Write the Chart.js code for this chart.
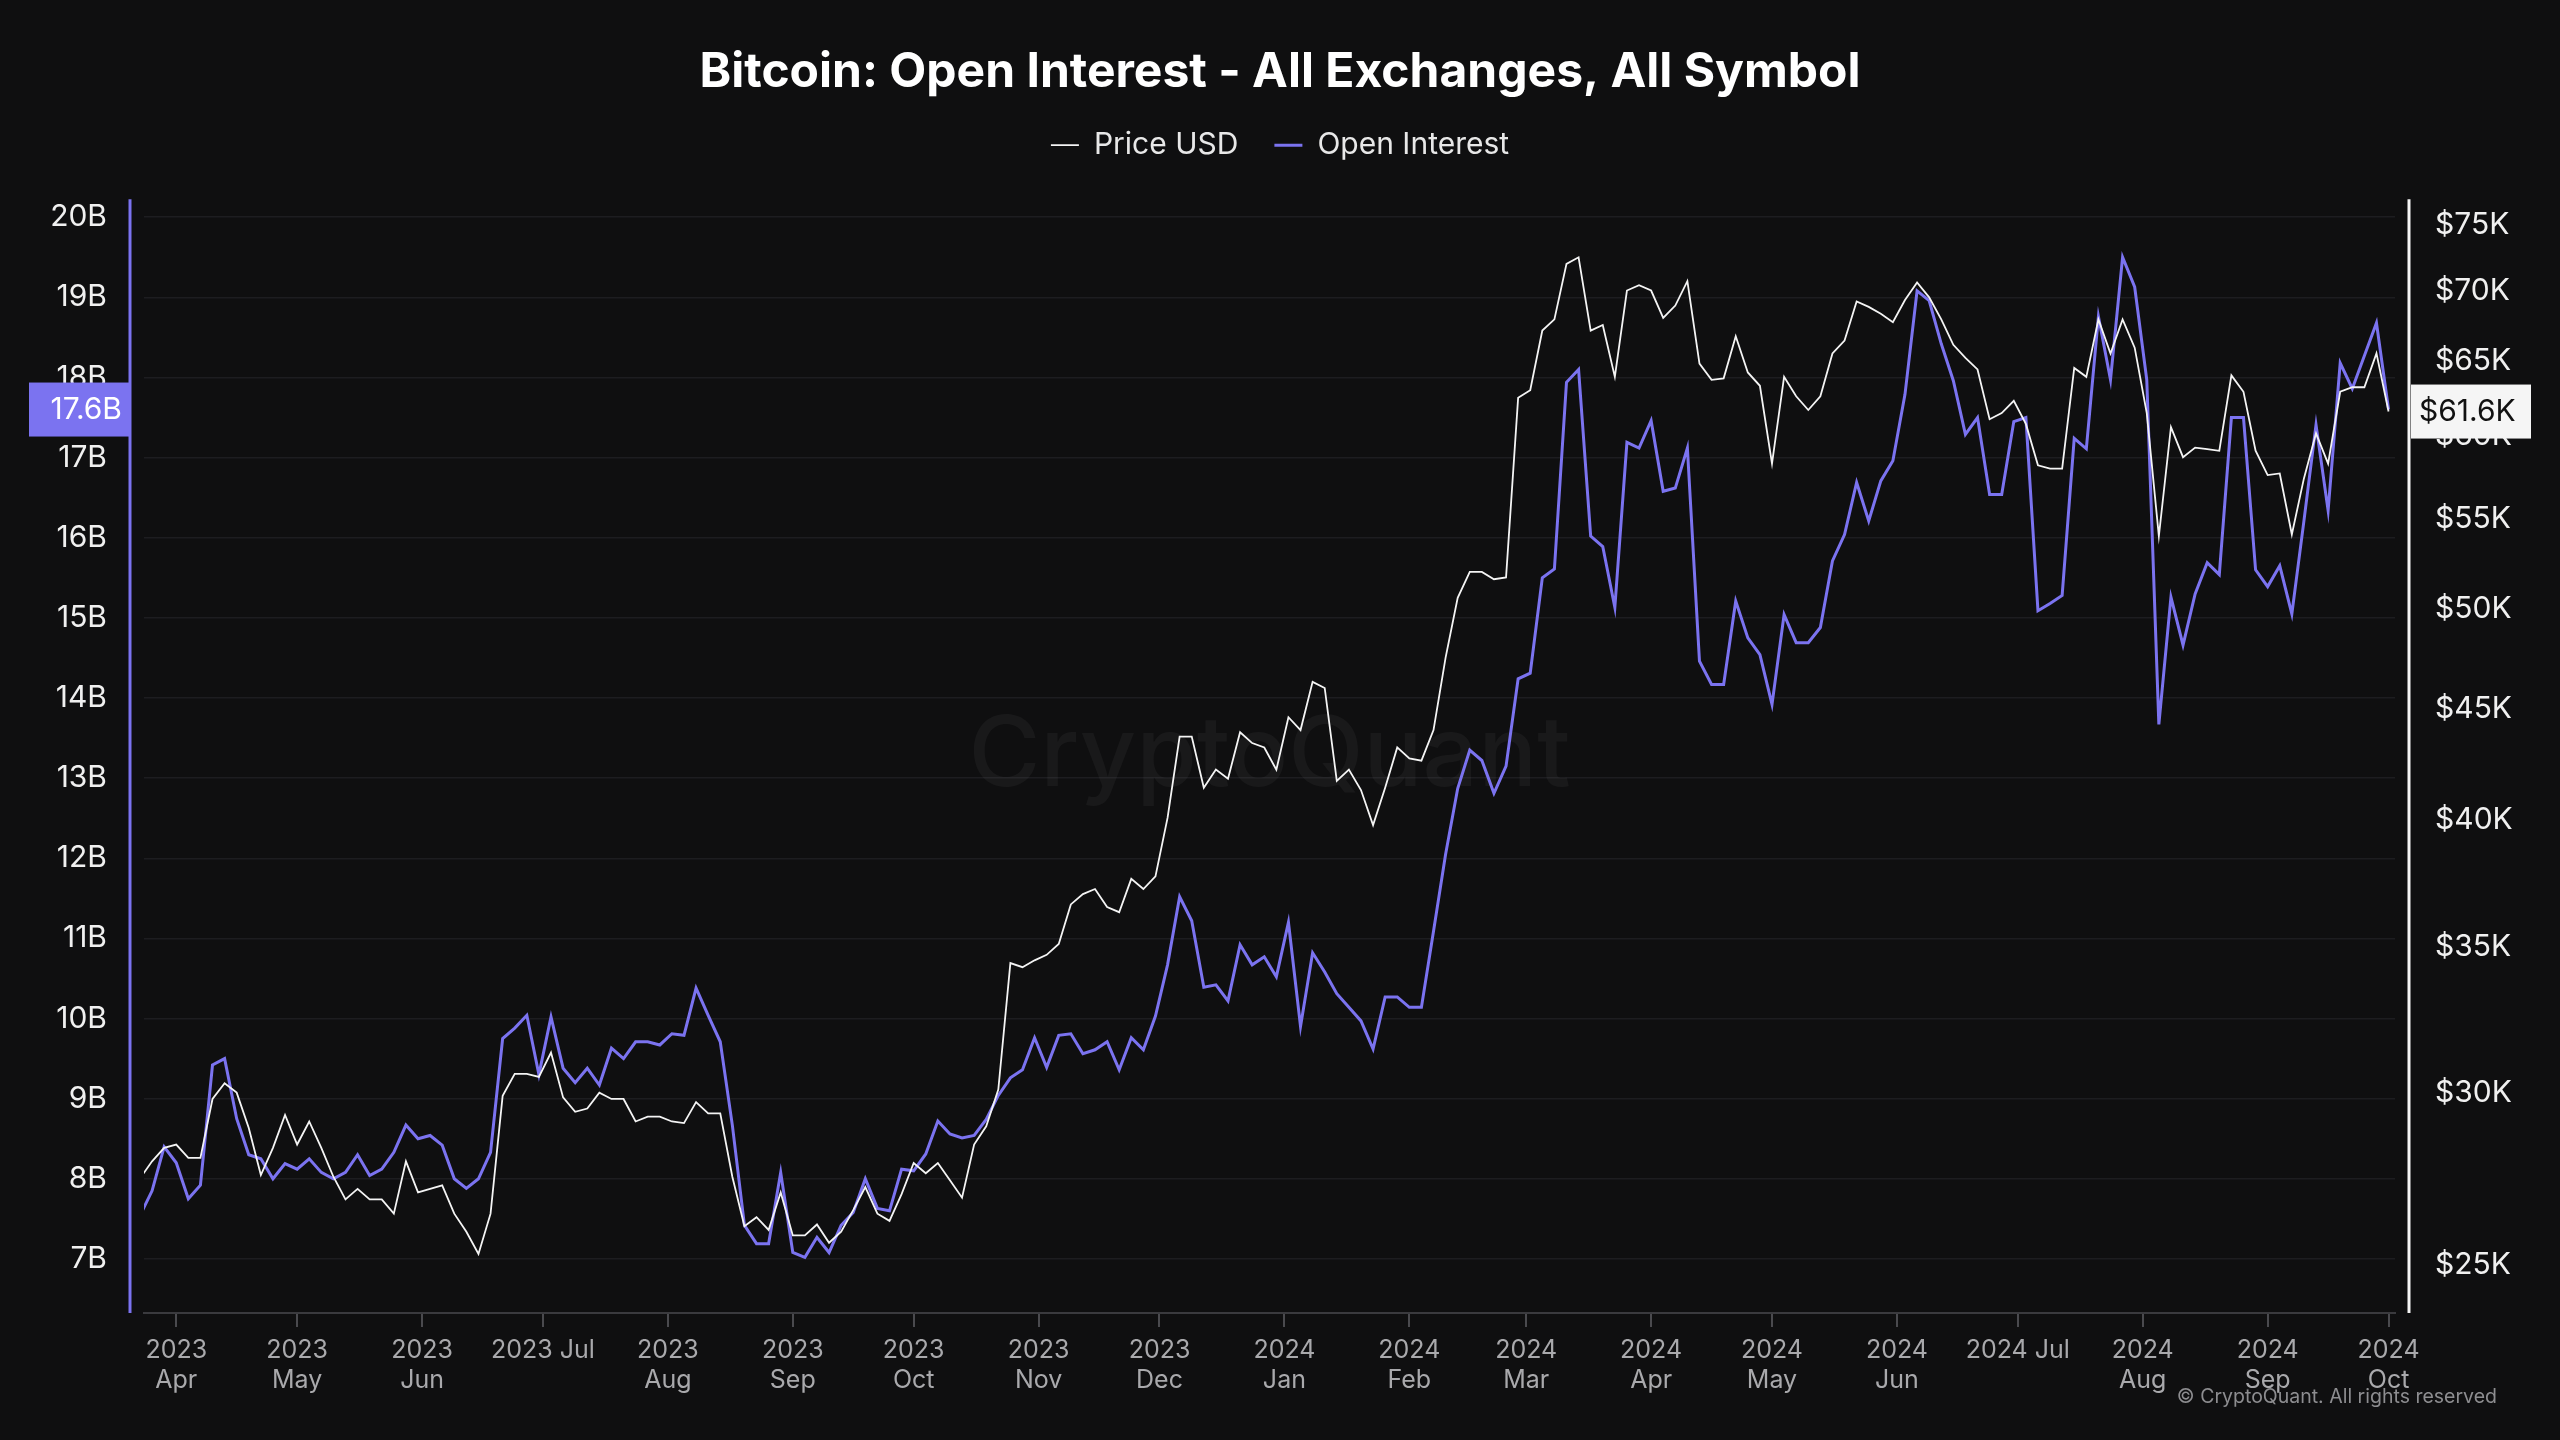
<!DOCTYPE html>
<html>
<head>
<meta charset="utf-8">
<title>Bitcoin: Open Interest - All Exchanges, All Symbol</title>
<script src="https://cdn.jsdelivr.net/npm/chart.js@4.4.1/dist/chart.umd.min.js"></script>
<style>
  html, body { margin: 0; padding: 0; background: #0f0f10; }
  #wrap { width: 2560px; height: 1440px; position: relative; }
</style>
</head>
<body>
<div id="wrap"><canvas id="oiChart"></canvas></div>
<script>
// one sample every 3 days, first one on 23 Mar 2023
const startDate = Date.UTC(2023, 2, 23);
const stepDays = 3;
const DAY = 86400000;

// BTC price, thousands of USD
const priceK = [
  27.4, 27.9, 28.3, 28.4, 28.0, 28.0, 29.8, 30.3, 30.0, 28.9,
  27.5, 28.3, 29.3, 28.4, 29.1, 28.3, 27.45, 26.8, 27.1, 26.8,
  26.8, 26.4, 27.9, 27.0, 27.1, 27.2, 26.4, 25.9, 25.3, 26.4,
  29.9, 30.6, 30.6, 30.5, 31.3, 29.85, 29.4, 29.5, 30.0, 29.8,
  29.8, 29.1, 29.25, 29.25, 29.1, 29.05, 29.7, 29.35, 29.35, 27.45,
  26.05, 26.3, 25.95, 27.0, 25.8, 25.8, 26.1, 25.6, 25.9, 26.5,
  27.15, 26.4, 26.2, 26.95, 27.85, 27.55, 27.85, 27.35, 26.85, 28.4,
  28.95, 30.1, 34.4, 34.25, 34.5, 34.7, 35.1, 36.6, 37.0, 37.2,
  36.5, 36.3, 37.6, 37.2, 37.7, 40.1, 43.7, 43.7, 41.4, 42.2,
  41.8, 43.9, 43.4, 43.2, 42.2, 44.6, 44.0, 46.3, 46.0, 41.7,
  42.2, 41.3, 39.8, 41.4, 43.2, 42.7, 42.6, 44.0, 47.5, 50.6,
  52.0, 52.0, 51.6, 51.7, 62.5, 63.0, 67.1, 67.9, 72.0, 72.5,
  67.1, 67.5, 63.9, 70.0, 70.4, 70.0, 68.0, 68.9, 70.7, 64.8,
  63.7, 63.8, 66.7, 64.2, 63.3, 58.3, 63.9, 62.6, 61.7, 62.6,
  65.5, 66.4, 69.2, 68.8, 68.3, 67.7, 69.3, 70.6, 69.5, 67.9,
  66.1, 65.2, 64.4, 61.1, 61.5, 62.3, 60.8, 58.2, 58.0, 58.0,
  64.5, 63.9, 67.9, 65.5, 67.9, 65.9, 61.5, 54.0, 60.6, 58.7,
  59.3, 59.2, 59.1, 64.0, 62.9, 59.1, 57.6, 57.7, 54.1, 57.4,
  60.2, 58.3, 62.9, 63.2, 63.2, 65.5, 61.6
];

// open interest, billions of USD
const openInterestB = [
  7.54, 7.85, 8.4, 8.2, 7.75, 7.92, 9.42, 9.5, 8.75, 8.3,
  8.25, 8.0, 8.19, 8.12, 8.25, 8.08, 8.0, 8.08, 8.3, 8.04,
  8.12, 8.33, 8.67, 8.5, 8.54, 8.42, 8.0, 7.88, 8.0, 8.33,
  9.75, 9.88, 10.04, 9.3, 10.02, 9.38, 9.2, 9.38, 9.17, 9.63,
  9.5, 9.71, 9.71, 9.67, 9.81, 9.79, 10.38, 10.04, 9.71, 8.67,
  7.42, 7.19, 7.19, 8.08, 7.08, 7.02, 7.27, 7.08, 7.42, 7.58,
  8.0, 7.63, 7.6, 8.12, 8.1, 8.31, 8.72, 8.56, 8.51, 8.54,
  8.74, 9.04, 9.26, 9.36, 9.76, 9.39, 9.79, 9.81, 9.56, 9.61,
  9.71, 9.36, 9.76, 9.61, 10.03, 10.67, 11.52, 11.22, 10.39, 10.42,
  10.22, 10.92, 10.67, 10.77, 10.52, 11.2, 9.9, 10.82, 10.58, 10.31,
  10.14, 9.97, 9.62, 10.27, 10.27, 10.14, 10.14, 11.09, 12.05, 12.87,
  13.35, 13.22, 12.81, 13.15, 14.24, 14.31, 15.5, 15.61, 17.94, 18.1,
  16.02, 15.89, 15.13, 17.19, 17.12, 17.46, 16.58, 16.62, 17.12, 14.46,
  14.17, 14.17, 15.21, 14.75, 14.54, 13.92, 15.04, 14.69, 14.69, 14.88,
  15.71, 16.04, 16.69, 16.21, 16.71, 16.96, 17.79, 19.08, 18.96, 18.42,
  17.96, 17.29, 17.5, 16.54, 16.54, 17.45, 17.5, 15.09, 15.18, 15.28,
  17.24, 17.11, 18.76, 17.97, 19.5, 19.13, 17.97, 13.67, 15.26, 14.66,
  15.3, 15.69, 15.54, 17.5, 17.5, 15.6, 15.39, 15.65, 15.05, 16.21,
  17.41, 16.34, 18.18, 17.86, 18.27, 18.68, 17.6
];

const xTickMonths = [
  '2023-04', '2023-05', '2023-06', '2023-07', '2023-08', '2023-09', '2023-10',
  '2023-11', '2023-12', '2024-01', '2024-02', '2024-03', '2024-04', '2024-05',
  '2024-06', '2024-07', '2024-08', '2024-09', '2024-10'
];
const monthNames = ['Jan', 'Feb', 'Mar', 'Apr', 'May', 'Jun', 'Jul', 'Aug', 'Sep', 'Oct', 'Nov', 'Dec'];
const oiTicks = [7, 8, 9, 10, 11, 12, 13, 14, 15, 16, 17, 18, 19, 20];
const priceTicks = [25, 30, 35, 40, 45, 50, 55, 60, 65, 70, 75];

const PURPLE = '#7b73f0';
const FONT = 'Inter';

const xs = priceK.map((_, i) => startDate + i * stepDays * DAY);
const monthStart = s => Date.UTC(+s.slice(0, 4), +s.slice(5, 7) - 1, 1);

Chart.defaults.font.family = FONT;

const decorations = {
    id: 'decorations',
    beforeDatasetsDraw(chart) {
        const { ctx, chartArea: a } = chart;
        ctx.save();
        ctx.font = '500 98px ' + FONT;
        ctx.fillStyle = 'rgba(255,255,255,0.045)';
        ctx.textAlign = 'center';
        ctx.textBaseline = 'middle';
        ctx.fillText('CryptoQuant', (a.left + a.right) / 2, (a.top + a.bottom) / 2);
        ctx.restore();
    },
    afterDraw(chart) {
        const { ctx, chartArea: a, scales } = chart;
        ctx.save();
        // axis lines sit a little outside the plot area
        ctx.lineWidth = 3;
        ctx.strokeStyle = PURPLE;
        ctx.beginPath();
        ctx.moveTo(a.left - 14, a.top);
        ctx.lineTo(a.left - 14, a.bottom);
        ctx.stroke();
        ctx.strokeStyle = '#f4f4f4';
        ctx.beginPath();
        ctx.moveTo(a.right + 14, a.top);
        ctx.lineTo(a.right + 14, a.bottom);
        ctx.stroke();

        // last value tags
        const lastOI = openInterestB[openInterestB.length - 1];
        const lastPrice = priceK[priceK.length - 1];
        ctx.font = '30px ' + FONT;
        ctx.textBaseline = 'middle';

        let y = scales.yOI.getPixelForValue(lastOI);
        ctx.fillStyle = PURPLE;
        ctx.fillRect(29, y - 27, a.left - 14 - 29, 54);
        ctx.fillStyle = '#ffffff';
        ctx.textAlign = 'right';
        ctx.fillText(lastOI.toFixed(1) + 'B', a.left - 22, y);

        y = scales.yPrice.getPixelForValue(lastPrice * 1000);
        ctx.fillStyle = '#f5f5f5';
        ctx.fillRect(a.right + 16, y - 27, 120, 54);
        ctx.fillStyle = '#111111';
        ctx.textAlign = 'left';
        ctx.fillText('$' + lastPrice.toFixed(1) + 'K', a.right + 24, y);

        // footer
        ctx.font = '19.5px ' + FONT;
        ctx.fillStyle = '#8d8d90';
        ctx.textAlign = 'right';
        ctx.fillText('\u00A9 CryptoQuant. All rights reserved', 2497, 1397);
        ctx.restore();
    }
};

const ctx = document.getElementById('oiChart').getContext('2d');
const oiChart = new Chart(ctx, {
    type: 'line',
    data: {
        datasets: [
            {
                label: 'Price USD',
                data: priceK.map((v, i) => ({ x: xs[i], y: v * 1000 })),
                yAxisID: 'yPrice',
                borderColor: '#f4f4f4',
                borderWidth: 1.8,
                pointRadius: 0,
                tension: 0
            },
            {
                label: 'Open Interest',
                data: openInterestB.map((v, i) => ({ x: xs[i], y: v })),
                yAxisID: 'yOI',
                borderColor: PURPLE,
                borderWidth: 3,
                pointRadius: 0,
                tension: 0
            }
        ]
    },
    options: {
        responsive: true,
        maintainAspectRatio: false,
        devicePixelRatio: 1,
        animation: false,
        layout: { padding: 0 },
        plugins: {
            title: {
                display: true,
                text: 'Bitcoin: Open Interest - All Exchanges, All Symbol',
                color: '#ffffff',
                font: { size: 48, weight: 'bold', lineHeight: 0.9 },
                padding: { top: 51, bottom: 0 }
            },
            subtitle: {
                // empty spacer between the legend and the plot
                display: true,
                text: '',
                weight: 500,
                font: { size: 29, lineHeight: 1.0 },
                padding: 0
            },
            legend: {
                display: true,
                position: 'top',
                labels: {
                    color: '#e8e8e8',
                    font: { size: 30 },
                    usePointStyle: true,
                    pointStyle: 'line',
                    pointStyleWidth: 28,
                    padding: 36
                }
            },
            tooltip: { enabled: false }
        },
        scales: {
            x: {
                type: 'linear',
                min: Date.UTC(2023, 2, 24),
                max: Date.UTC(2023, 2, 24) + 558.6 * DAY,
                afterBuildTicks: s => { s.ticks = xTickMonths.map(m => ({ value: monthStart(m) })); },
                afterFit: s => { s.height = 127; },
                ticks: {
                    autoSkip: false,
                    maxRotation: 0,
                    color: '#a9a9ac',
                    font: { size: 25, lineHeight: 1.2 },
                    padding: 8,
                    callback: v => {
                        const d = new Date(v);
                        const yr = String(d.getUTCFullYear());
                        const mo = monthNames[d.getUTCMonth()];
                        return mo === 'Jul' ? yr + ' Jul' : [yr, mo];
                    }
                },
                grid: { drawOnChartArea: false, drawTicks: true, tickLength: 14, tickColor: '#4a4a4e', lineWidth: 2 },
                border: { display: true, color: '#3a3a3e', width: 2 }
            },
            yOI: {
                position: 'left',
                min: 6.325,
                max: 20.225,
                afterBuildTicks: s => { s.ticks = oiTicks.map(v => ({ value: v })); },
                afterFit: s => { s.width = 144; },
                ticks: {
                    color: '#f0f0f0',
                    font: { size: 30 },
                    padding: 37,
                    callback: v => v + 'B'
                },
                grid: { color: '#1d1d20', lineWidth: 1.5, drawTicks: false },
                border: { display: false }
            },
            yPrice: {
                position: 'right',
                type: 'logarithmic',
                min: 23770,
                max: 77090,
                afterBuildTicks: s => { s.ticks = priceTicks.map(v => ({ value: v * 1000 })); },
                afterFit: s => { s.width = 165; },
                ticks: {
                    color: '#f0f0f0',
                    font: { size: 30 },
                    padding: 40,
                    callback: v => '$' + (v / 1000) + 'K'
                },
                grid: { display: false, drawTicks: false },
                border: { display: false }
            }
        }
    },
    plugins: [decorations]
});
</script>
</body>
</html>
